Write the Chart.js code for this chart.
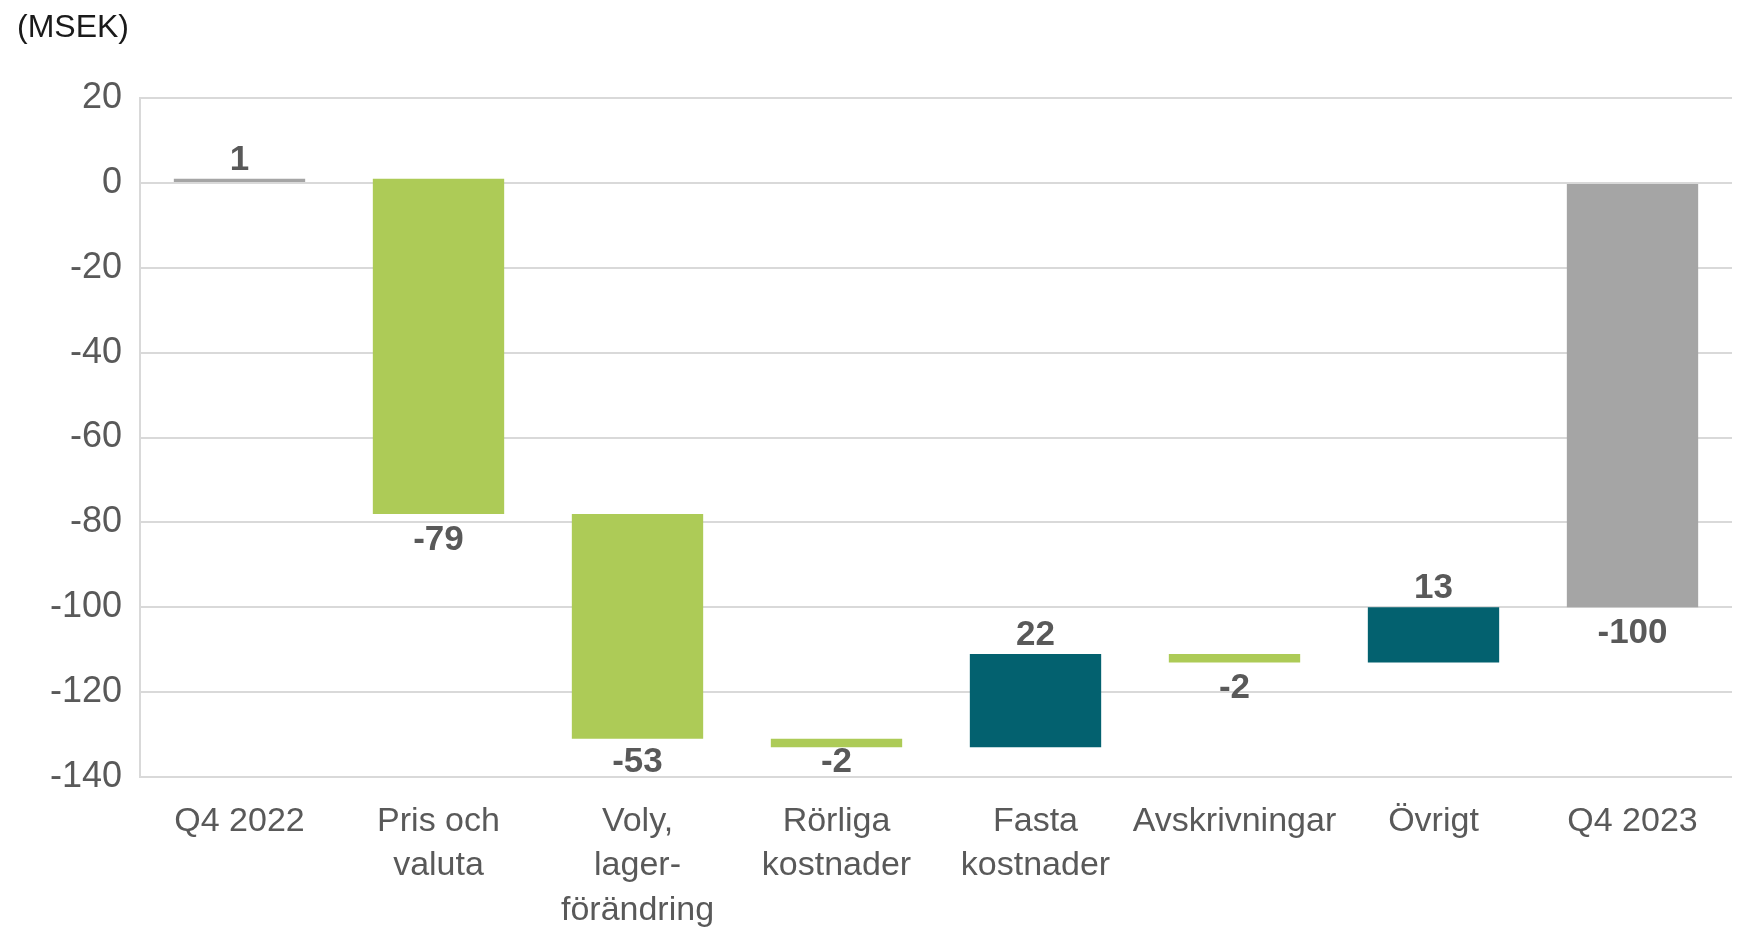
<!DOCTYPE html>
<html lang="sv">
<head>
<meta charset="UTF-8">
<title>Brygga Q4 2022 - Q4 2023</title>
<script src="https://cdn.jsdelivr.net/npm/chart.js"></script>
<style>
    body { margin: 0; background: #fff; font-family: "Liberation Sans", Arial, sans-serif; }
    .wrap { position: relative; width: 1737px; height: 928px; }
    .unit { position: absolute; left: 17px; top: 10px; font-size: 32px; line-height: 32px; color: #1a1a1a; }
</style>
</head>
<body>

<div class="wrap">
    <canvas id="bridgeChart"></canvas>
    <div class="unit">(MSEK)</div>
</div>

<script>
// categories and bridge steps (MSEK)
const categories = [
    ["Q4 2022"], ["Pris och", "valuta"], ["Voly,", "lager-", "förändring"],
    ["Rörliga", "kostnader"], ["Fasta", "kostnader"], ["Avskrivningar"],
    ["Övrigt"], ["Q4 2023"]
];
const changes = [1, -79, -53, -2, 22, -2, 13, -100];
const isTotal = [true, false, false, false, false, false, false, true];
const yTicks = { min: -140, max: 20, step: 20 };

const GREEN = "#ADCB57";
const TEAL = "#03616F";
const GREY = "#A5A5A5";

// floating bars: totals start from 0, steps from running level
let level = 0;
const bars = [];
const colors = [];
changes.forEach((v, i) => {
    if (isTotal[i]) {
        bars.push([0, v]);
        level = v;
        colors.push(GREY);
    } else {
        bars.push([level, level + v]);
        level += v;
        colors.push(v < 0 ? GREEN : TEAL);
    }
});

const valueLabels = {
    id: "valueLabels",
    afterDatasetsDraw(chart) {
        const ctx = chart.ctx;
        const meta = chart.getDatasetMeta(0);
        ctx.save();
        ctx.font = "bold 35px 'Liberation Sans', Arial, sans-serif";
        ctx.fillStyle = "#595959";
        ctx.textAlign = "center";
        ctx.textBaseline = "alphabetic";
        meta.data.forEach((bar, i) => {
            const top = Math.min(bar.y, bar.base);
            const bottom = Math.max(bar.y, bar.base);
            let y;
            if (changes[i] > 0) {
                y = top - 9;
            } else {
                y = Math.min(bottom + 36, chart.chartArea.bottom - 5);
            }
            ctx.fillText(String(changes[i]), bar.x, y);
        });
        ctx.restore();
    }
};

new Chart(document.getElementById("bridgeChart"), {
    type: "bar",
    data: {
        labels: categories,
        datasets: [{
            data: bars,
            backgroundColor: colors,
            borderWidth: 0,
            borderSkipped: false,
            barPercentage: 0.66,
            categoryPercentage: 1
        }]
    },
    options: {
        responsive: true,
        maintainAspectRatio: false,
        animation: false,
        layout: { padding: { top: 98, right: 5, left: 0, bottom: 0 } },
        plugins: {
            legend: { display: false },
            tooltip: { enabled: false }
        },
        scales: {
            x: {
                grid: { display: false },
                border: { display: false },
                ticks: {
                    color: "#595959",
                    font: { family: "'Liberation Sans', Arial, sans-serif", size: 34, lineHeight: 1.31 },
                    padding: 14,
                    maxRotation: 0,
                    autoSkip: false
                },
                afterFit(scale) { scale.height = 151; }
            },
            y: {
                min: yTicks.min,
                max: yTicks.max,
                ticks: {
                    stepSize: yTicks.step,
                    color: "#595959",
                    font: { family: "'Liberation Sans', Arial, sans-serif", size: 36 },
                    padding: 18
                },
                grid: { color: "#D9D9D9", lineWidth: 2, drawTicks: false },
                border: { display: true, color: "#D9D9D9", width: 2 },
                afterFit(scale) { scale.width = 140; }
            }
        }
    },
    plugins: [valueLabels]
});
</script>

</body>
</html>
